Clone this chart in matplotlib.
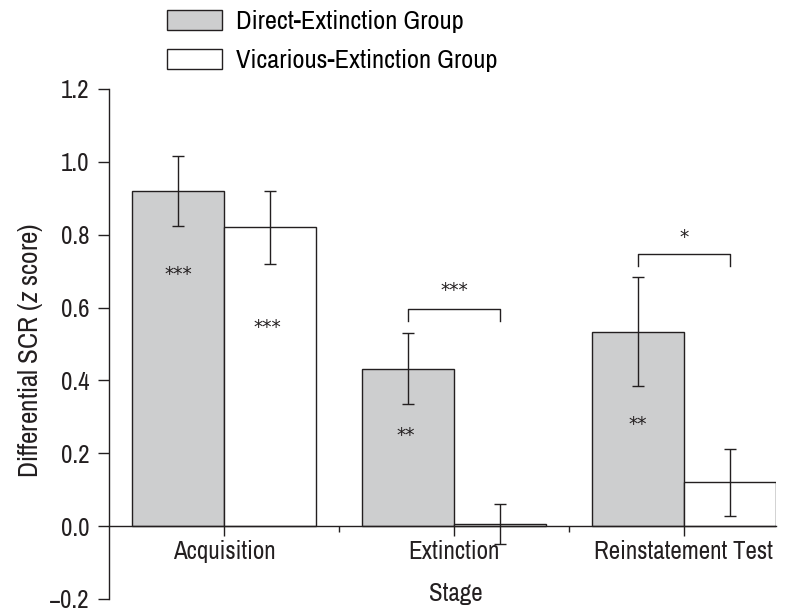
import matplotlib
matplotlib.use("Agg")
import matplotlib.pyplot as plt
from matplotlib.patches import Patch
import numpy as np

plt.rcParams['font.family'] = ['Archivo Narrow', 'DejaVu Sans']
plt.rcParams['mathtext.fontset'] = 'custom'
plt.rcParams['mathtext.it'] = 'Archivo Narrow:style=italic'
plt.rcParams['mathtext.rm'] = 'Archivo Narrow'

stages = ['Acquisition', 'Extinction', 'Reinstatement Test']
direct_mean = [0.92, 0.432, 0.534]
direct_err = [0.097, 0.098, 0.150]
vicarious_mean = [0.82, 0.005, 0.120]
vicarious_err = [0.100, 0.055, 0.093]

# significance marks inside bars (stage, offset, y, text)
inbar_stars = [(0, -0.2, 0.705, '***'), (0, 0.19, 0.56, '***'),
               (1, -0.21, 0.262, '**'), (2, -0.2, 0.294, '**')]
# brackets between groups: stage, leg bottom, top, star y, text
brackets = [(1, 0.563, 0.596, 0.66, '***'), (2, 0.715, 0.747, 0.805, '*')]

ink = '#231f20'
gray = '#cdcecf'
fs = 19
tick_fs = 18
star_kw = dict(ha='center', va='center', fontsize=13.5, color=ink,
               family='DejaVu Sans')
star_shift = -0.014

fig = plt.figure(figsize=(7.9, 6.09), dpi=100)
ax = fig.add_axes([0.138, 0.0165, 0.844, 0.8374])

x = np.arange(len(stages))
w = 0.4
ax.bar(x - w / 2, direct_mean, w, color=gray, edgecolor=ink, linewidth=1.0,
       label='Direct-Extinction Group', zorder=2)
ax.bar(x + w / 2, vicarious_mean, w, color='white', edgecolor=ink, linewidth=1.0,
       label='Vicarious-Extinction Group', zorder=2)
ax.errorbar(x - w / 2, direct_mean, yerr=direct_err, fmt='none', ecolor=ink,
            elinewidth=1.0, capsize=4, capthick=1.0, zorder=3)
ax.errorbar(x + w / 2, vicarious_mean, yerr=vicarious_err, fmt='none', ecolor=ink,
            elinewidth=1.0, capsize=4, capthick=1.0, zorder=3)

for stage, dx, y, s in inbar_stars:
    ax.text(stage + dx, y + star_shift, s, **star_kw)

for stage, lo, hi, sy, s in brackets:
    ax.plot([stage - w / 2, stage - w / 2, stage + w / 2, stage + w / 2],
            [lo, hi, hi, lo], color=ink, linewidth=1.0)
    ax.text(stage, sy + star_shift, s, **star_kw)

ax.set_xlim(-0.5, 2.4)
ax.set_ylim(-0.2, 1.2)
yt = np.arange(-0.2, 1.21, 0.2)
ax.set_yticks(yt)
ax.set_yticklabels(['\u22120.2' if v < 0 else f'{v:.1f}' for v in yt])
ax.set_xticks(x)
ax.set_xticklabels(stages)
ax.set_xticks([0.5, 1.5], minor=True)

ax.spines['top'].set_visible(False)
ax.spines['right'].set_visible(False)
ax.spines['bottom'].set_position(('data', 0))
for sp in ax.spines.values():
    sp.set_color(ink)
    sp.set_linewidth(1.0)

ax.tick_params(axis='y', direction='out', length=8, width=1.0, pad=6,
               labelsize=tick_fs, colors=ink)
ax.tick_params(axis='x', which='major', direction='out', length=7, width=1.0,
               pad=3, labelsize=tick_fs, colors=ink)
ax.tick_params(axis='x', which='minor', direction='out', length=4, width=1.0,
               colors=ink)

ax.set_xlabel('Stage', fontsize=tick_fs, color=ink)
ax.xaxis.set_label_coords(0.520, 0.034)
ax.set_ylabel(r'Differential SCR ($\mathit{z}$ score)', fontsize=fs + 0.5, color=ink)
ax.yaxis.set_label_coords(-0.096, 0.487)

handles = [Patch(facecolor=gray, edgecolor=ink, linewidth=1.0),
           Patch(facecolor='white', edgecolor=ink, linewidth=1.0)]
fig.legend(handles, ['Direct-Extinction Group', 'Vicarious-Extinction Group'],
           loc='upper left', bbox_to_anchor=(167 / 790, 1 - 10 / 609),
           frameon=False, fontsize=fs, handlelength=2.08, handleheight=0.8,
           handletextpad=0.53, labelspacing=0.6, borderpad=0, borderaxespad=0)

fig.savefig('out.png', dpi=100)
